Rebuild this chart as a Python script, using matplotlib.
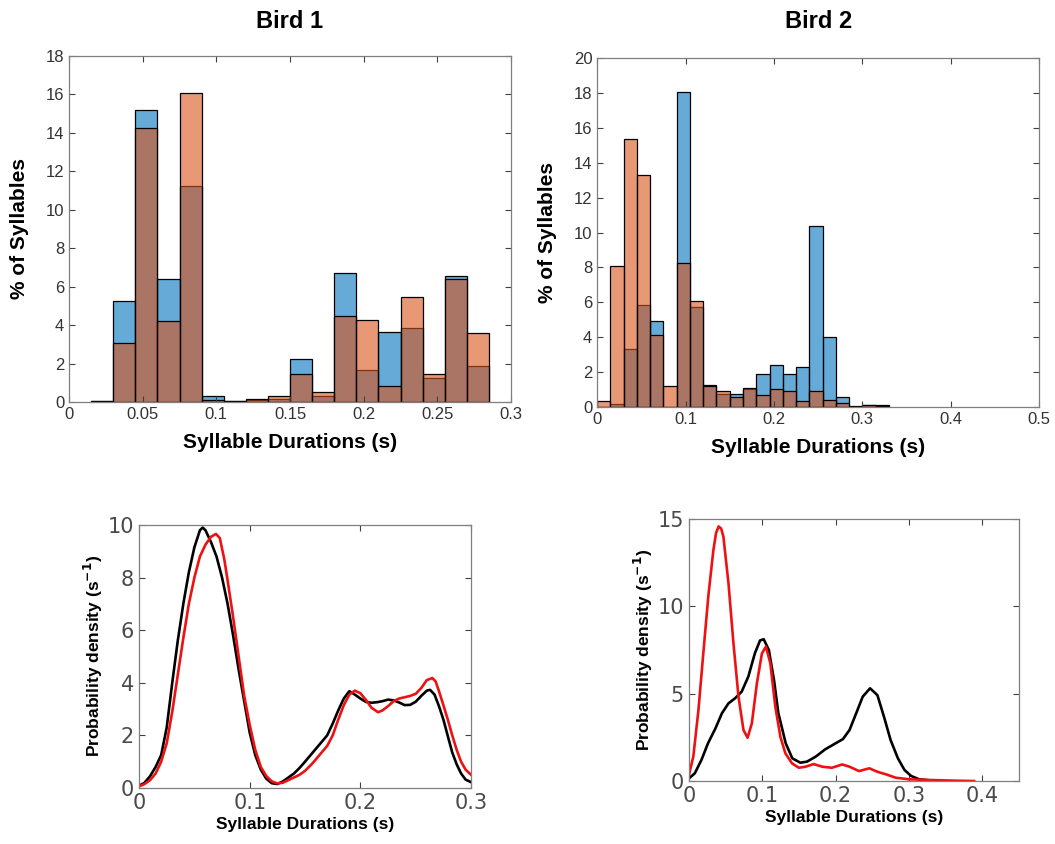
import numpy as np
import matplotlib
matplotlib.use("Agg")
import matplotlib.pyplot as plt

plt.rcParams['font.family'] = ['Liberation Sans', 'DejaVu Sans']

# --- histogram data (% of syllables), bins 0.015 s wide ---
bin_w = 0.015
bird1_start = 0.015
bird1_blue = [0.06, 5.26, 15.17, 6.38, 11.25, 0.29, 0.07, 0.10, 0.18, 2.25, 0.30,
              6.70, 1.68, 3.62, 3.84, 1.25, 6.58, 1.89]
bird1_orange = [0.05, 3.06, 14.26, 4.19, 16.09, 0.12, 0.05, 0.14, 0.29, 1.45, 0.50,
                4.45, 4.28, 0.85, 5.45, 1.45, 6.42, 3.58]

bird2_start = 0.0
bird2_blue = [0.0, 0.15, 3.33, 5.84, 4.94, 0.0, 18.09, 5.74, 1.28, 0.71, 0.73,
              1.05, 1.91, 2.39, 1.91, 2.30, 10.37, 4.02, 0.57, 0.02, 0.10, 0.08]
bird2_orange = [0.34, 8.08, 15.35, 13.30, 4.13, 1.20, 8.27, 6.10, 1.22, 0.92, 0.57,
                1.09, 0.67, 1.00, 0.88, 0.33, 0.88, 0.38, 0.23, 0.0, 0.08, 0.05]

# --- probability density curves (s^-1) ---
b1_black_x = [0, 0.005, 0.01, 0.015, 0.02, 0.025, 0.03, 0.035, 0.04, 0.045, 0.05, 0.055,
              0.0575, 0.06, 0.065, 0.07, 0.075, 0.08, 0.085, 0.09, 0.095, 0.1, 0.105,
              0.11, 0.115, 0.12, 0.125, 0.13, 0.135, 0.14, 0.145, 0.15, 0.155, 0.16,
              0.165, 0.17, 0.175, 0.18, 0.185, 0.19, 0.195, 0.2, 0.205, 0.21, 0.215,
              0.22, 0.225, 0.23, 0.235, 0.24, 0.245, 0.25, 0.255, 0.26, 0.263, 0.267,
              0.271, 0.275, 0.279, 0.283, 0.287, 0.291, 0.295, 0.3]
b1_black_y = [0.08, 0.2, 0.45, 0.8, 1.25, 2.3, 4.0, 5.6, 7.0, 8.2, 9.15, 9.8,
              9.9, 9.8, 9.35, 8.8, 8.0, 7.0, 5.8, 4.5, 3.3, 2.1, 1.25,
              0.7, 0.35, 0.18, 0.15, 0.25, 0.4, 0.55, 0.76, 1.0, 1.25, 1.5,
              1.75, 2.0, 2.45, 2.95, 3.4, 3.68, 3.55, 3.4, 3.27, 3.24, 3.26,
              3.3, 3.36, 3.33, 3.25, 3.15, 3.16, 3.28, 3.5, 3.7, 3.73, 3.55,
              3.11, 2.6, 1.97, 1.35, 0.9, 0.55, 0.32, 0.22]

b1_red_x = [0, 0.005, 0.01, 0.015, 0.02, 0.025, 0.03, 0.035, 0.04, 0.045, 0.05, 0.055,
            0.06, 0.065, 0.0695, 0.073, 0.077, 0.08, 0.085, 0.09, 0.095, 0.1, 0.105,
            0.11, 0.115, 0.12, 0.125, 0.13, 0.135, 0.14, 0.145, 0.15, 0.157, 0.165,
            0.17, 0.175, 0.18, 0.185, 0.19, 0.195, 0.2, 0.205, 0.21, 0.216, 0.22,
            0.225, 0.23, 0.235, 0.24, 0.245, 0.25, 0.255, 0.26, 0.265, 0.268, 0.271,
            0.275, 0.279, 0.283, 0.287, 0.291, 0.295, 0.3]
b1_red_y = [0.06, 0.15, 0.3, 0.55, 1.0, 1.7, 2.9, 4.3, 5.7, 7.0, 8.0, 8.8,
            9.25, 9.55, 9.66, 9.5, 8.7, 7.9, 6.5, 5.0, 3.5, 2.4, 1.45,
            0.8, 0.45, 0.25, 0.17, 0.2, 0.3, 0.4, 0.5, 0.65, 0.95, 1.35,
            1.6, 2.0, 2.6, 3.15, 3.55, 3.7, 3.6, 3.35, 3.05, 2.88, 2.95,
            3.11, 3.3, 3.4, 3.45, 3.5, 3.58, 3.8, 4.1, 4.18, 4.05, 3.68,
            3.15, 2.6, 2.0, 1.45, 1.0, 0.7, 0.5]

b2_black_x = [0, 0.008, 0.017, 0.026, 0.036, 0.045, 0.054, 0.063, 0.072, 0.081, 0.09,
              0.097, 0.102, 0.109, 0.116, 0.122, 0.132, 0.141, 0.152, 0.161, 0.173,
              0.186, 0.2, 0.21, 0.219, 0.228, 0.237, 0.247, 0.257, 0.266, 0.275,
              0.285, 0.294, 0.303, 0.314, 0.328, 0.335]
b2_black_y = [0.15, 0.44, 1.2, 2.16, 3.0, 3.88, 4.45, 4.74, 5.12, 5.98, 7.32,
              8.05, 8.12, 7.5, 5.79, 3.88, 2.16, 1.3, 1.05, 1.11, 1.4,
              1.82, 2.16, 2.4, 2.92, 3.87, 4.83, 5.31, 4.92, 3.68, 2.35,
              1.3, 0.63, 0.29, 0.1, 0.04, 0.02]

b2_red_x = [0, 0.006, 0.013, 0.0196, 0.0265, 0.0333, 0.037, 0.0405, 0.044, 0.047, 0.054,
            0.0607, 0.0676, 0.0744, 0.08, 0.0858, 0.0927, 0.0995, 0.105, 0.111, 0.1178,
            0.1247, 0.1315, 0.1406, 0.15, 0.159, 0.17, 0.182, 0.195, 0.209, 0.219,
            0.232, 0.246, 0.257, 0.269, 0.282, 0.3, 0.328, 0.364, 0.389]
b2_red_y = [0.34, 1.4, 4.07, 7.3, 10.6, 13.2, 14.2, 14.58, 14.45, 14.0, 11.3,
            7.9, 4.83, 2.92, 2.48, 3.3, 5.6, 7.3, 7.7, 6.75, 4.26,
            2.54, 1.59, 1.01, 0.76, 0.82, 0.97, 0.82, 0.76, 0.95, 0.82,
            0.57, 0.73, 0.53, 0.38, 0.19, 0.1, 0.06, 0.02, 0.0]

blue = (0.0, 0.447, 0.741, 0.6)
orange = (0.85, 0.325, 0.098, 0.6)
spine_col = '#7f7f7f'


def style_axes(ax, label_size, label_col):
    for s in ax.spines.values():
        s.set_color(spine_col)
        s.set_linewidth(0.9)
    ax.tick_params(direction='in', top=True, right=True, length=4, width=0.8,
                   color='#404040', labelcolor=label_col, labelsize=label_size)


def hist_panel(ax, start, blues, oranges, xmax, ymax, xticks, yticks):
    edges = start + bin_w * np.arange(len(blues))
    ax.bar(edges, blues, width=bin_w, align='edge', facecolor=blue,
           edgecolor='black', linewidth=0.9)
    ax.bar(edges, oranges, width=bin_w, align='edge', facecolor=orange,
           edgecolor='black', linewidth=0.9)
    ax.set_xlim(0, xmax)
    ax.set_ylim(0, ymax)
    ax.set_xticks(xticks)
    ax.set_xticklabels([('%g' % t) for t in xticks])
    ax.set_yticks(yticks)
    style_axes(ax, 12, '#333333')
    ax.set_xlabel('Syllable Durations (s)', fontsize=15, fontweight='bold', labelpad=8)
    ax.set_ylabel('% of Syllables', fontsize=15, fontweight='bold', labelpad=12)


def density_panel(ax, bx, by, rx, ry, xmax, ymax, xticks, yticks):
    ax.plot(bx, by, color='black', linewidth=1.9)
    ax.plot(rx, ry, color='#ee1111', linewidth=1.9)
    ax.set_xlim(0, xmax)
    ax.set_ylim(0, ymax)
    ax.set_xticks(xticks)
    ax.set_xticklabels([('%g' % t) for t in xticks])
    ax.set_yticks(yticks)
    style_axes(ax, 15, '#4a4a4a')
    for lab in ax.get_xticklabels() + ax.get_yticklabels():
        lab.set_family('DejaVu Sans')
    ax.set_xlabel('Syllable Durations (s)', fontsize=12.5, fontweight='bold', labelpad=3)
    ax.set_ylabel(r'Probability density (s$^{\mathbf{-1}}$)', fontsize=12.5,
                  fontweight='bold', labelpad=2)


fig = plt.figure(figsize=(10.55, 8.44), dpi=100)

ax1 = fig.add_axes([0.0654, 0.5237, 0.419, 0.41])
hist_panel(ax1, bird1_start, bird1_blue, bird1_orange, 0.3, 18,
           [0, 0.05, 0.1, 0.15, 0.2, 0.25, 0.3], np.arange(0, 19, 2))

ax2 = fig.add_axes([0.566, 0.518, 0.419, 0.4128])
hist_panel(ax2, bird2_start, bird2_blue, bird2_orange, 0.5, 20,
           [0, 0.1, 0.2, 0.3, 0.4, 0.5], np.arange(0, 21, 2))

ax3 = fig.add_axes([0.1318, 0.0664, 0.3147, 0.3116])
density_panel(ax3, b1_black_x, b1_black_y, b1_red_x, b1_red_y, 0.3, 10,
              [0, 0.1, 0.2, 0.3], [0, 2, 4, 6, 8, 10])

ax4 = fig.add_axes([0.653, 0.0746, 0.3128, 0.3104])
density_panel(ax4, b2_black_x, b2_black_y, b2_red_x, b2_red_y, 0.45, 15,
              [0, 0.1, 0.2, 0.3, 0.4], [0, 5, 10, 15])

fig.text(0.2749, 1 - 22 / 844, 'Bird 1', ha='center', va='center',
         fontsize=17, fontweight='bold')
fig.text(0.7755, 1 - 22 / 844, 'Bird 2', ha='center', va='center',
         fontsize=17, fontweight='bold')

fig.savefig('out.png', dpi=100)
